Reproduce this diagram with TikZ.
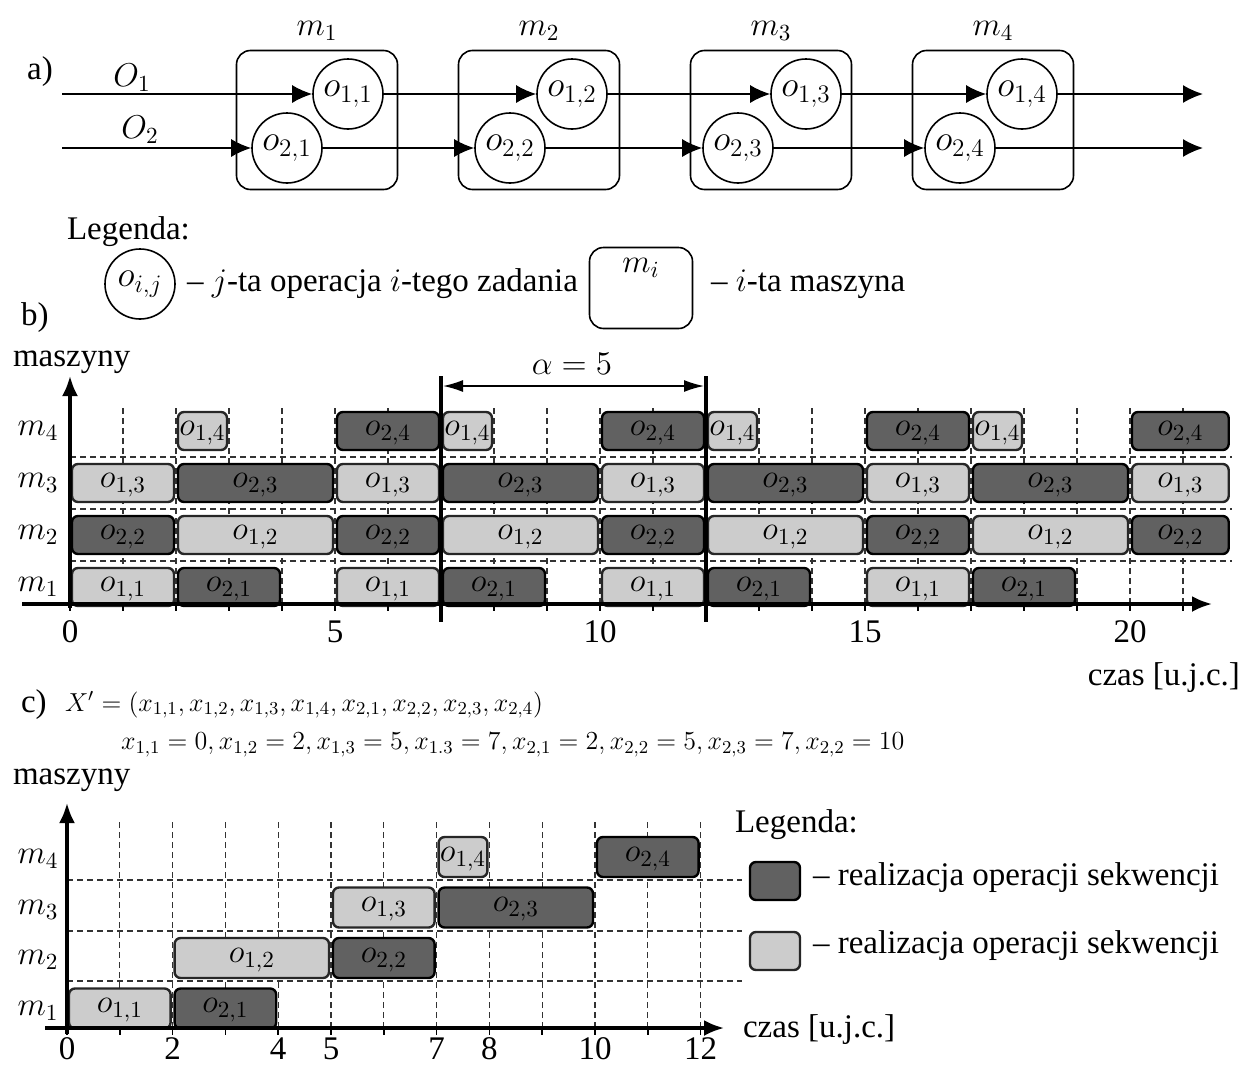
\documentclass[tikz,border=0pt]{standalone}
\usepackage{fix-cm}
\usepackage{fontspec}
\setmainfont{Liberation Serif}
\usetikzlibrary{arrows.meta,positioning}

\tikzset{
  maszyna/.style={draw, thick, rounded corners=7pt, minimum width=80.5pt, minimum height=69.5pt},
  operacja/.style={circle, draw, thick, minimum size=35pt, inner sep=0pt, font=\fontsize{18}{20}\selectfont},
  przeplyw/.style={thick, -{Latex[length=10pt,width=9pt]}},
  jasna/.style={draw=black!85, line width=1.2pt, fill=black!20, rounded corners=3pt},
  ciemna/.style={draw=black, line width=1.2pt, fill=black!62, rounded corners=3pt},
  siatka/.style={densely dashed, line width=0.6pt, black!80},
  os/.style={line width=1.6pt, -{Latex[length=10pt,width=8pt]}},
}

\begin{document}
\begin{tikzpicture}[x=0.5pt, y=-0.5pt, font=\fontsize{16.5}{19}\selectfont]
    \useasboundingbox (0,0) rectangle (1259,1066);

    % a) maszyny i operacje
    \node (lit_a) at (40,72) {a)};
    \foreach \j/\x in {1/317, 2/539, 3/771, 4/993} {
        \node[maszyna] (m\j) at (\x,120) {};
        \node[above=1pt of m\j] (lm\j) {$m_\j$};
    }
    \foreach \j/\x in {1/348, 2/572, 3/806, 4/1022}
        \node[operacja] (o1\j) at (\x,94) {$o_{1,\j}$};
    \foreach \j/\x in {1/287, 2/510, 3/738, 4/960}
        \node[operacja] (o2\j) at (\x,148) {$o_{2,\j}$};
    \coordinate (we1) at (62,94);
    \coordinate (we2) at (62,148);
    \coordinate (wy1) at (1203,94);
    \coordinate (wy2) at (1203,148);
    \node (O1) at (132,78) {$O_1$};
    \node (O2) at (140,130) {$O_2$};
    \foreach \i in {1,2} {
        \draw[przeplyw] (we\i) -- (o\i1);
        \draw[przeplyw] (o\i1) -- (o\i2);
        \draw[przeplyw] (o\i2) -- (o\i3);
        \draw[przeplyw] (o\i3) -- (o\i4);
        \draw[przeplyw] (o\i4) -- (wy\i);
    }

    % legenda a)
    \node[anchor=west] (leg_a) at (60,232) {Legenda:};
    \node[operacja] (leg_o) at (140,284) {$o_{i,j}$};
    \node[anchor=west] (leg_ot) at (180,284) {-- $j$-ta operacja $i$-tego zadania};
    \node[draw, thick, rounded corners=7pt, minimum width=51.5pt, minimum height=40.5pt] (leg_m) at (641,288) {};
    \node (leg_mi) at (641,268) {$m_i$};
    \node[anchor=west] (leg_mt) at (704,284) {-- $i$-ta maszyna};

    % b) harmonogram cykliczny
    \node[anchor=west] (lit_b) at (14,318) {b)};
    \node[anchor=west] (masz_b) at (6,362) {maszyny};
    \foreach \t in {1,...,21}
        \draw[siatka] ({70+53*\t},604) -- ({70+53*\t},408);
    \foreach \yy in {457,509,561}
        \draw[siatka] (70,\yy) -- (1232,\yy);
    \foreach \r/\a/\b/\z/\st in {
        1/0/2/1/jasna, 1/2/4/2/ciemna, 1/5/7/1/jasna, 1/7/9/2/ciemna,
        1/10/12/1/jasna, 1/12/14/2/ciemna, 1/15/17/1/jasna, 1/17/19/2/ciemna,
        2/0/2/2/ciemna, 2/2/5/1/jasna, 2/5/7/2/ciemna, 2/7/10/1/jasna, 2/10/12/2/ciemna,
        2/12/15/1/jasna, 2/15/17/2/ciemna, 2/17/20/1/jasna, 2/20/21.9/2/ciemna,
        3/0/2/1/jasna, 3/2/5/2/ciemna, 3/5/7/1/jasna, 3/7/10/2/ciemna, 3/10/12/1/jasna,
        3/12/15/2/ciemna, 3/15/17/1/jasna, 3/17/20/2/ciemna, 3/20/21.9/1/jasna,
        4/2/3/1/jasna, 4/5/7/2/ciemna, 4/7/8/1/jasna, 4/10/12/2/ciemna,
        4/12/13/1/jasna, 4/15/17/2/ciemna, 4/17/18/1/jasna, 4/20/21.9/2/ciemna} {
        \draw[\st] ({70+53*\a+2},{639-52*\r-19}) rectangle ({70+53*\b-2},{639-52*\r+19});
        \node (b-\r-\a) at ({70+53*(\a+\b)/2},{641-52*\r}) {$o_{\z,\r}$};
    }
    \foreach \r in {1,...,4}
        \node (mb\r) at (38,{639-52*\r}) {$m_\r$};
    \foreach \t in {0,...,21}
        \draw[thick] ({70+53*\t},604) -- ++(0,7);
    \foreach \t in {0,5,10,15,20}
        \node (tb\t) at ({70+53*\t},632) {\t};
    \draw[os] (22,604) -- (1212,604);
    \draw[os] (70,608) -- (70,376);
    \draw[line width=2pt] (441,376) -- (441,622);
    \draw[line width=2pt] (706,376) -- (706,622);
    \coordinate (al) at (443,386);
    \coordinate (ap) at (704,386);
    \draw[thick, {Latex[length=10pt,width=6pt]}-{Latex[length=10pt,width=6pt]}] (al) -- (ap);
    \node (alfa) at (572,364) {$\alpha = 5$};
    \node[anchor=east] (czas_b) at (1247,678) {czas [u.j.c.]};

    % c) jedna sekwencja
    \node[anchor=west] (lit_c) at (14,705) {c)};
    \node[anchor=west, font=\fontsize{13}{15}\selectfont] (X) at (58,705)
        {$X' = (x_{1,1}, x_{1,2}, x_{1,3}, x_{1,4}, x_{2,1}, x_{2,2}, x_{2,3}, x_{2,4})$};
    \node[anchor=west, font=\fontsize{13}{15}\selectfont] (Xw) at (114,745)
        {$x_{1,1} = 0, x_{1,2} = 2, x_{1,3} = 5, x_{1.3} = 7, x_{2,1} = 2, x_{2,2} = 5, x_{2,3} = 7, x_{2,2} = 10$};
    \node[anchor=west] (masz_c) at (6,780) {maszyny};
    \foreach \t in {1,...,12}
        \draw[siatka] ({67+52.8*\t},1028) -- ({67+52.8*\t},822);
    \foreach \yy in {880,931,981}
        \draw[siatka] (67,\yy) -- (742,\yy);
    \foreach \r/\a/\b/\z/\st in {
        1/0/2/1/jasna, 1/2/4/2/ciemna, 2/2/5/1/jasna, 2/5/7/2/ciemna,
        3/5/7/1/jasna, 3/7/10/2/ciemna, 4/7/8/1/jasna, 4/10/12/2/ciemna} {
        \draw[\st] ({67+52.8*\a+2},{1059-50.5*\r-20}) rectangle ({67+52.8*\b-2},{1059-50.5*\r+20});
        \node (c-\r-\a) at ({67+52.8*(\a+\b)/2},{1061-50.5*\r}) {$o_{\z,\r}$};
    }
    \foreach \r in {1,...,4}
        \node (mc\r) at (38,{1061-50.5*\r}) {$m_\r$};
    \foreach \t in {0,...,12}
        \draw[thick] ({67+52.8*\t},1028) -- ++(0,7);
    \foreach \t in {0,2,4,5,7,8,10,12}
        \node[inner sep=1pt] (tc\t) at ({67+52.8*\t},1049) {\t};
    \draw[os] (45,1028) -- (724,1028);
    \draw[os] (67,1034) -- (67,803);
    \node[anchor=west] (czas_c) at (736,1030) {czas [u.j.c.]};

    % legenda c)
    \node[anchor=west] (leg_c) at (728,825) {Legenda:};
    \node[ciemna, minimum width=25pt, minimum height=19pt, inner sep=0pt] (leg_c1) at (775,881) {};
    \node[anchor=west] (leg_c1t) at (806,878) {-- realizacja operacji sekwencji};
    \node[jasna, minimum width=25pt, minimum height=19pt, inner sep=0pt] (leg_c2) at (775,951) {};
    \node[anchor=west] (leg_c2t) at (806,946) {-- realizacja operacji sekwencji};
\end{tikzpicture}
\end{document}
